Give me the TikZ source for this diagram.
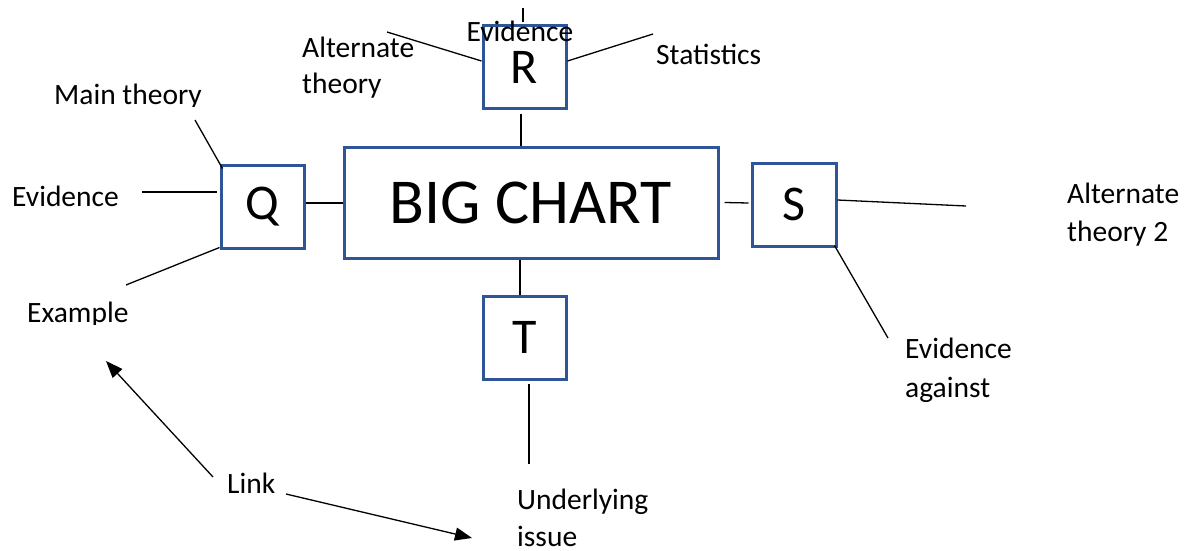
\documentclass[tikz,border=0pt]{standalone}
\usepackage{fontspec}
\setmainfont{Carlito}
\usetikzlibrary{arrows.meta}
\definecolor{boxblue}{RGB}{47,85,151}
\tikzset{
  box/.style={draw=boxblue, line width=3pt, inner sep=0pt, minimum width=83pt, minimum height=83pt, font=\fontsize{50}{56}\selectfont},
  lbl/.style={anchor=base west, inner sep=0pt, font=\fontsize{29.5}{34}\selectfont},
  conn/.style={draw=black, line width=1.3pt},
  arr/.style={draw=black, line width=1.3pt, -{Triangle[length=17pt,width=13pt]}}
}
\begin{document}
\begin{tikzpicture}[x=1pt,y=-1pt]
\useasboundingbox (0,0) rectangle (1187,551);
% boxes
\node[box, minimum width=374pt, minimum height=111pt, font=\fontsize{64}{70}\selectfont] (BIG) at (531,202.5) {BIG CHART};
\node[box] (R) at (524.5,67.5) {R};
\node[box] (Q) at (262.5,206.5) {Q};
\node[box, minimum width=84pt] (S) at (794,204.5) {S};
\node[box] (T) at (524.5,337.5) {T};
% free ends
\coordinate (rtop) at (523,8);
\coordinate (ralt) at (387,32);
\coordinate (rstat) at (653,34);
\coordinate (qmain) at (195,120);
\coordinate (qev) at (142,192);
\coordinate (qex) at (126,285);
\coordinate (salt) at (966,206);
\coordinate (sev) at (888,338);
\coordinate (tund) at (529,464);
\coordinate (l1s) at (213,477);
\coordinate (l1e) at (106,361);
\coordinate (l2s) at (286,494);
\coordinate (l2e) at (472,538);
% connectors between boxes
\draw[conn] ([xshift=-3.5pt,yshift=-3pt]R.south) -- ([xshift=-3.5pt]R.south |- BIG.north);
\draw[conn] ([yshift=3.5pt]Q.east) -- ([yshift=3.5pt]Q.east -| BIG.west);
\draw[conn] ([xshift=5pt]BIG.east) -- ([xshift=-2pt,yshift=-0.5pt]BIG.east -| S.west);
\draw[conn] ([xshift=-11pt]BIG.south) -- ([xshift=-11pt]BIG.south |- T.north);
% spokes
\draw[conn] (rtop) -- ([yshift=2pt]rtop |- R.north);
\draw[conn] (ralt) -- ([yshift=6.5pt]R.west);
\draw[conn] ([yshift=6.5pt]R.east) -- (rstat);
\draw[conn] (qmain) -- ([xshift=3pt,yshift=-5pt]Q.north west);
\draw[conn] (qev) -- ([xshift=-3pt,yshift=14.5pt]Q.west);
\draw[conn] (qex) -- ([yshift=2pt]Q.south west);
\draw[conn] ([yshift=4.5pt]S.east) -- (salt);
\draw[conn] ([xshift=-3pt,yshift=2pt]S.south east) -- (sev);
\draw[conn] ([xshift=4.5pt,yshift=-3pt]T.south) -- (tund);
% link arrows
\draw[arr] (l1s) -- (l1e);
\draw[arr] (l2s) -- (l2e);
% labels
\node[lbl, anchor=base] (evtop) at (520,42) {Evidence};
\node[lbl] (alt1) at (302,58) {Alternate};
\node[lbl] (alt1b) at (302,94) {theory};
\node[lbl] (stat) at (656,65) {Statistics};
\begin{scope}
\clip (0,0) rectangle (320,106.5);
\node[lbl] (main) at (54,105) {Main theory};
\end{scope}
\node[lbl] (evl) at (12,206) {Evidence};
\begin{scope}
\clip (0,290) rectangle (320,324);
\node[lbl] (exm) at (27,322) {Example};
\end{scope}
\node[lbl] (alt2) at (1067,203) {Alternate};
\node[lbl] (alt2b) at (1067,241) {theory 2};
\node[lbl] (eva) at (905,358) {Evidence};
\node[lbl] (evab) at (905,397) {against};
\node[lbl] (und) at (517,509) {Underlying};
\node[lbl] (undb) at (517,546) {issue};
\node[lbl] (link) at (227,493) {Link};
\end{tikzpicture}
\end{document}
